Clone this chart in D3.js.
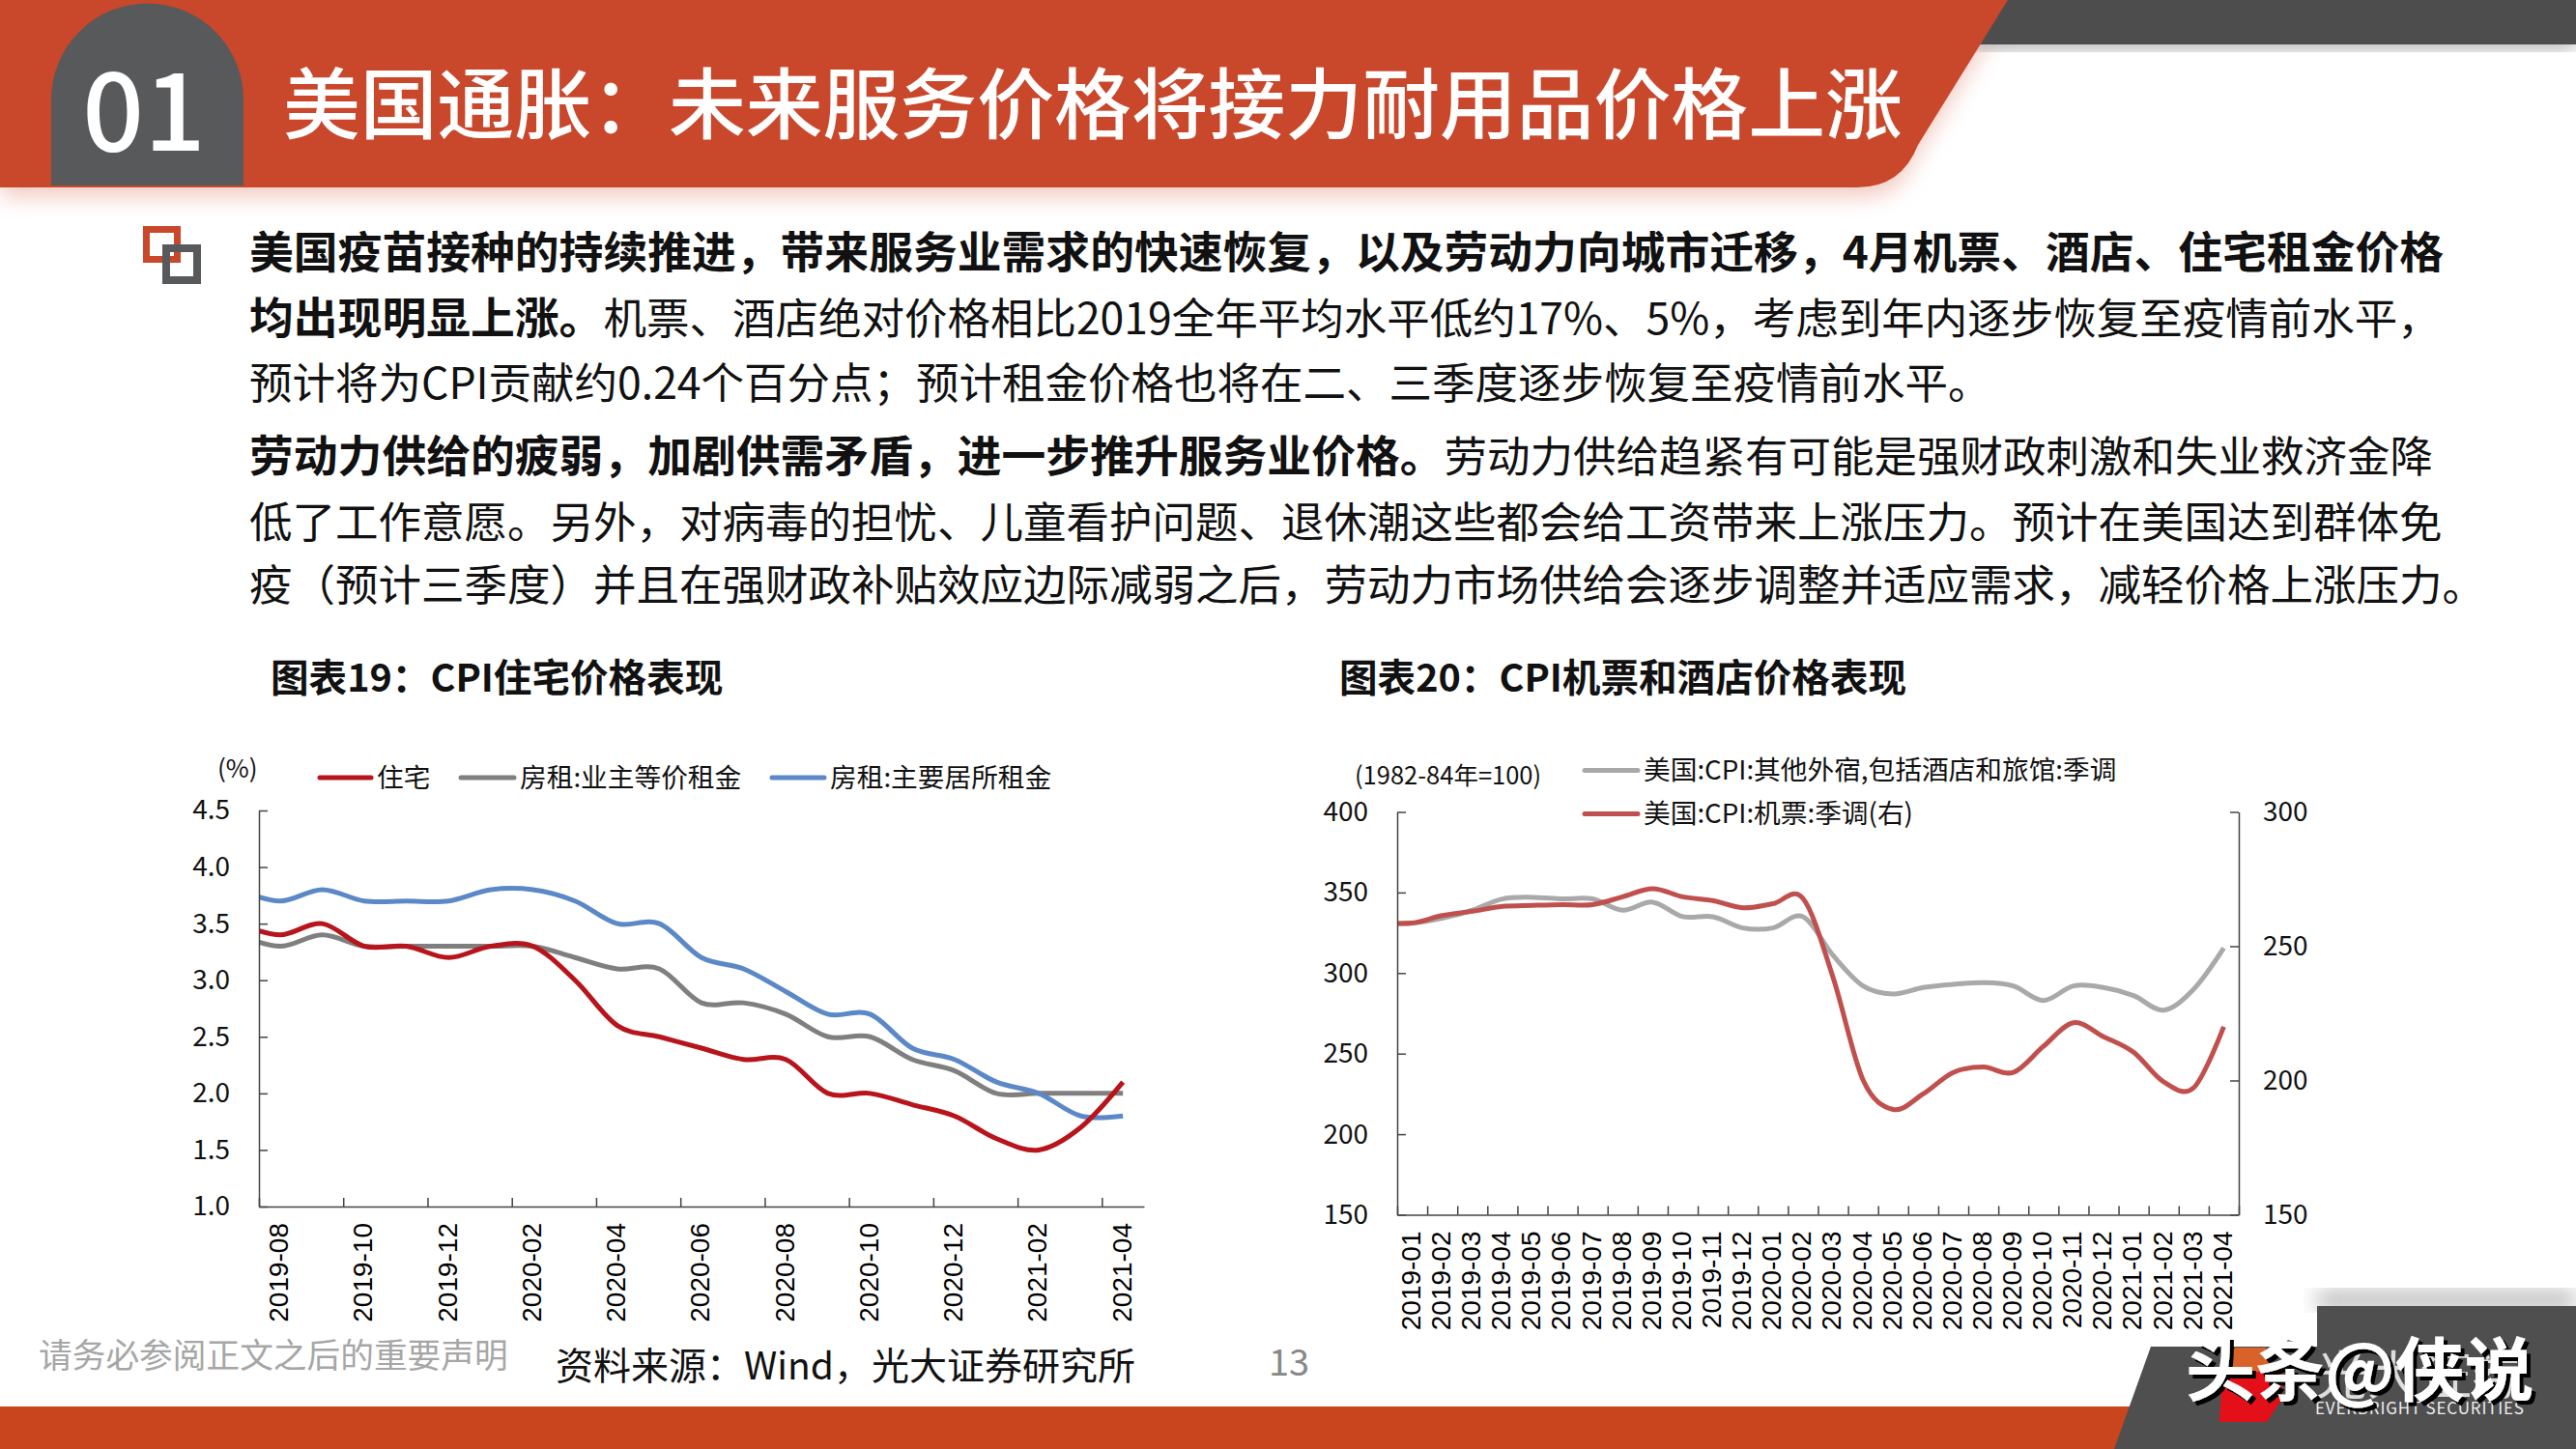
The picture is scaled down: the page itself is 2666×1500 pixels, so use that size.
<!DOCTYPE html>
<html>
<head>
<meta charset="utf-8">
<script src="https://cdn.jsdelivr.net/npm/d3@7"></script>
<style>
  html, body { margin: 0; padding: 0; background: #fff; }
  svg { display: block; }
  text { font-family: "Noto Sans CJK SC", "Noto Sans", sans-serif; }
</style>
</head>
<body>
<script>
const width = 2666;
const height = 1500;

const slideNumber = "01";
const slideTitle = "美国通胀：未来服务价格将接力耐用品价格上涨";
const bodyLines = [
  [["美国疫苗接种的持续推进，带来服务业需求的快速恢复，以及劳动力向城市迁移，4月机票、酒店、住宅租金价格", true]],
  [["均出现明显上涨。", true], ["机票、酒店绝对价格相比2019全年平均水平低约17%、5%，考虑到年内逐步恢复至疫情前水平，", false]],
  [["预计将为CPI贡献约0.24个百分点；预计租金价格也将在二、三季度逐步恢复至疫情前水平。", false]],
  [["劳动力供给的疲弱，加剧供需矛盾，进一步推升服务业价格。", true], ["劳动力供给趋紧有可能是强财政刺激和失业救济金降", false]],
  [["低了工作意愿。另外，对病毒的担忧、儿童看护问题、退休潮这些都会给工资带来上涨压力。预计在美国达到群体免", false]],
  [["疫（预计三季度）并且在强财政补贴效应边际减弱之后，劳动力市场供给会逐步调整并适应需求，减轻价格上涨压力。", false]]
];
const bodyBaselines = [277.5, 345.5, 412.5, 488.5, 556.5, 622];

// chart 19, first month only sits behind the clip at the axis
const months19 = ["2019-07", "2019-08", "2019-09", "2019-10", "2019-11", "2019-12", "2020-01", "2020-02", "2020-03", "2020-04", "2020-05", "2020-06", "2020-07", "2020-08", "2020-09", "2020-10", "2020-11", "2020-12", "2021-01", "2021-02", "2021-03", "2021-04"];
const housing = [3.5, 3.4, 3.5, 3.3, 3.3, 3.2, 3.3, 3.3, 3.0, 2.6, 2.5, 2.4, 2.3, 2.3, 2.0, 2.0, 1.9, 1.8, 1.6, 1.5, 1.7, 2.1];
const ownersRent = [3.4, 3.3, 3.4, 3.3, 3.3, 3.3, 3.3, 3.3, 3.2, 3.1, 3.1, 2.8, 2.8, 2.7, 2.5, 2.5, 2.3, 2.2, 2.0, 2.0, 2.0, 2.0];
const primaryRent = [3.8, 3.7, 3.8, 3.7, 3.7, 3.7, 3.8, 3.8, 3.7, 3.5, 3.5, 3.2, 3.1, 2.9, 2.7, 2.7, 2.4, 2.3, 2.1, 2.0, 1.8, 1.8];
const ticks19 = [1.0, 1.5, 2.0, 2.5, 3.0, 3.5, 4.0, 4.5];

// chart 20, same lead-in month behind the clip
const months20 = ["2018-12", "2019-01", "2019-02", "2019-03", "2019-04", "2019-05", "2019-06", "2019-07", "2019-08", "2019-09", "2019-10", "2019-11", "2019-12", "2020-01", "2020-02", "2020-03", "2020-04", "2020-05", "2020-06", "2020-07", "2020-08", "2020-09", "2020-10", "2020-11", "2020-12", "2021-01", "2021-02", "2021-03", "2021-04"];
const lodging = [331, 331, 334, 339, 346, 347, 346, 346, 339, 344, 335, 335, 328, 328, 335, 311, 292, 287, 291, 293, 294, 292, 283, 292, 291, 286, 277, 290, 315.6];
const airfare = [258.8, 258.6, 261.4, 263, 264.8, 265.2, 265.5, 265.5, 268.4, 271.4, 268.4, 267, 264.3, 265.8, 267.8, 238.4, 200.2, 189.2, 195, 203, 205, 203, 212.7, 221.5, 216.3, 210.5, 199.5, 197.3, 220];
const ticks20Left = [150, 200, 250, 300, 350, 400];
const ticks20Right = [150, 200, 250, 300];

const svg = d3.select("body").append("svg")
  .attr("width", width)
  .attr("height", height);

const defs = svg.append("defs");
const orange = "#c9472a";
const darkGray = "#58595b";

const blur = defs.append("filter").attr("id", "soft")
  .attr("x", "-5%").attr("y", "-30%").attr("width", "110%").attr("height", "160%");
blur.append("feGaussianBlur").attr("stdDeviation", 11);

const wmShadow = defs.append("filter").attr("id", "wmShadow")
  .attr("x", "-5%").attr("y", "-5%").attr("width", "110%").attr("height", "120%");
wmShadow.append("feDropShadow")
  .attr("dx", 4).attr("dy", 4).attr("stdDeviation", 0.5)
  .attr("flood-color", "#000").attr("flood-opacity", 1);

// header
svg.append("path")
  .attr("d", "M0,0H2078L1976,164Q1965,194 1922,194H0Z")
  .attr("transform", "translate(0,10)")
  .attr("fill", "#e8a090")
  .attr("opacity", 0.55)
  .attr("filter", "url(#soft)");
svg.append("rect")
  .attr("x", 2040).attr("y", 30).attr("width", 626).attr("height", 18)
  .attr("fill", "#999").attr("filter", "url(#soft)");
svg.append("rect")
  .attr("x", 2040).attr("y", 0).attr("width", 626).attr("height", 46)
  .attr("fill", "#4d4d4d");
svg.append("path")
  .attr("d", "M0,0H2078L1985,150Q1968,194 1922,194H0Z")
  .attr("fill", orange);
svg.append("path")
  .attr("d", "M53,192V103A99,99 0 0 1 252,103V192Z")
  .attr("fill", darkGray);
svg.append("text")
  .attr("x", 149).attr("y", 156)
  .attr("text-anchor", "middle")
  .attr("font-size", 112).attr("font-weight", 500)
  .attr("fill", "#fff")
  .text(slideNumber);
svg.append("text")
  .attr("x", 293).attr("y", 137)
  .attr("font-size", 79.8).attr("font-weight", 500)
  .attr("fill", "#fff")
  .text(slideTitle);

// bullet icon
svg.append("rect").attr("x", 151.5).attr("y", 237.5).attr("width", 32).attr("height", 31)
  .attr("fill", "none").attr("stroke", orange).attr("stroke-width", 7);
svg.append("rect").attr("x", 172).attr("y", 257).attr("width", 32).attr("height", 33)
  .attr("fill", "none").attr("stroke", darkGray).attr("stroke-width", 8);

// body text
const body = svg.append("g").attr("fill", "#111");
bodyLines.forEach((runs, i) => {
  const line = body.append("text").attr("x", 258).attr("y", bodyBaselines[i]);
  runs.forEach(([txt, bold]) => {
    line.append("tspan")
      .attr("font-size", bold ? 45.8 : 44.5)
      .attr("font-weight", bold ? 700 : 400)
      .text(txt);
  });
});

// chart titles
svg.append("text").attr("x", 280).attr("y", 716)
  .attr("font-size", 39.6).attr("font-weight", 700).attr("fill", "#111")
  .text("图表19：CPI住宅价格表现");
svg.append("text").attr("x", 1386).attr("y", 716)
  .attr("font-size", 39.6).attr("font-weight", 700).attr("fill", "#111")
  .text("图表20：CPI机票和酒店价格表现");

const curve = d3.curveCatmullRom.alpha(0);

function drawXAxis(g, x, months, labelEvery, y0) {
  const shown = d3.range(1, months.length);
  // labels sit on the band centres, ticks on the band edges
  g.append("g")
    .attr("transform", `translate(0,${y0})`)
    .call(d3.axisBottom(x)
      .tickValues(shown.filter(i => (i - 1) % labelEvery === 0))
      .tickFormat(i => months[i])
      .tickSize(0))
    .call(a => a.select(".domain").remove())
    .selectAll("text")
    .attr("y", 0).attr("x", -17).attr("dy", "0.28em")
    .attr("transform", "rotate(-90)")
    .attr("text-anchor", "end")
    .style("font-family", "'Liberation Sans', Arial, sans-serif")
    .attr("font-size", 28)
    .attr("fill", "#000");

  const edges = d3.range(0.5, months.length + 0.5, labelEvery);
  g.append("g")
    .attr("transform", `translate(0,${y0})`)
    .call(d3.axisBottom(x).tickValues(edges).tickFormat("").tickSize(-9).tickSizeOuter(0))
    .call(a => a.selectAll("line,path").attr("stroke", "#444").attr("stroke-width", 1.5));
}

function styleYAxis(a) {
  a.selectAll("line,path").attr("stroke", "#444").attr("stroke-width", 1.5);
  a.selectAll("text").attr("font-size", 28).attr("fill", "#111");
}

function drawLines(g, id, x, rows) {
  defs.append("clipPath").attr("id", id).append("rect")
    .attr("x", x.range()[0]).attr("y", 800)
    .attr("width", x.range()[1] - x.range()[0]).attr("height", 500);
  const plot = g.append("g").attr("clip-path", `url(#${id})`);
  rows.forEach(r => {
    const line = d3.line().x((d, i) => x(i)).y(d => r.y(d)).curve(curve);
    plot.append("path")
      .datum(r.values)
      .attr("fill", "none")
      .attr("stroke", r.color)
      .attr("stroke-width", 5)
      .attr("stroke-linejoin", "round")
      .attr("d", line);
  });
}

function legendItem(g, x1, x2, y, color, label) {
  g.append("line").attr("x1", x1).attr("x2", x2).attr("y1", y).attr("y2", y)
    .attr("stroke", color).attr("stroke-width", 5).attr("stroke-linecap", "round");
  g.append("text").attr("x", x2 + 6).attr("y", y).attr("dy", "0.35em")
    .attr("font-size", 27.7).attr("fill", "#111").text(label);
}

// chart 19
const c19 = svg.append("g");
const x19 = d3.scaleLinear().domain([0.5, months19.length - 0.5]).range([268, 1184]);
const y19 = d3.scaleLinear().domain([1, 4.5]).range([1249, 839]);
drawLines(c19, "clip19", x19, [
  { values: ownersRent, color: "#7f7f7f", y: y19 },
  { values: primaryRent, color: "#5b88c6", y: y19 },
  { values: housing, color: "#b8141c", y: y19 }
]);
c19.append("g")
  .attr("transform", "translate(268,0)")
  .call(d3.axisLeft(y19).tickValues(ticks19).tickFormat(d3.format(".1f"))
    .tickSize(-9).tickSizeOuter(0).tickPadding(30))
  .call(styleYAxis);
drawXAxis(c19, x19, months19, 2, 1249);
c19.append("text").attr("x", 225).attr("y", 796).attr("dy", "0.35em")
  .attr("font-size", 26).attr("fill", "#111").text("(%)");
legendItem(c19, 331, 384, 805, "#b8141c", "住宅");
legendItem(c19, 477, 532, 805, "#7f7f7f", "房租:业主等价租金");
legendItem(c19, 799, 853, 805, "#5b88c6", "房租:主要居所租金");

// chart 20
const c20 = svg.append("g");
const x20 = d3.scaleLinear().domain([0.5, months20.length - 0.5]).range([1446, 2317]);
const y20 = d3.scaleLinear().domain([150, 400]).range([1257.5, 840.5]);
const y20r = d3.scaleLinear().domain([150, 300]).range([1257.5, 840.5]);
drawLines(c20, "clip20", x20, [
  { values: lodging, color: "#a9a9a9", y: y20 },
  { values: airfare, color: "#c0504d", y: y20r }
]);
c20.append("g")
  .attr("transform", "translate(1446,0)")
  .call(d3.axisLeft(y20).tickValues(ticks20Left).tickSize(-9).tickSizeOuter(0).tickPadding(30))
  .call(styleYAxis);
c20.append("g")
  .attr("transform", "translate(2317,0)")
  .call(d3.axisRight(y20r).tickValues(ticks20Right).tickSize(-9).tickSizeOuter(0).tickPadding(25))
  .call(styleYAxis);
drawXAxis(c20, x20, months20, 1, 1257.5);
c20.append("text").attr("x", 1402).attr("y", 803).attr("dy", "0.35em")
  .attr("font-size", 25.5).attr("fill", "#111").text("(1982-84年=100)");
legendItem(c20, 1640, 1695, 797.5, "#a9a9a9", "美国:CPI:其他外宿,包括酒店和旅馆:季调");
legendItem(c20, 1640, 1695, 842.5, "#c0504d", "美国:CPI:机票:季调(右)");

// footer
svg.append("text").attr("x", 40).attr("y", 1404).attr("dy", "0.35em")
  .attr("font-size", 34.7).attr("fill", "#a6a6a6").text("请务必参阅正文之后的重要声明");
svg.append("text").attr("x", 575).attr("y", 1414).attr("dy", "0.35em")
  .attr("font-size", 39).attr("fill", "#111").text("资料来源：Wind，光大证券研究所");
svg.append("text").attr("x", 1313).attr("y", 1411).attr("dy", "0.35em")
  .attr("font-size", 38).attr("fill", "#888").text("13");

svg.append("rect").attr("x", 0).attr("y", 1456).attr("width", 2300).attr("height", 44)
  .attr("fill", "#c8451d");
svg.append("rect").attr("x", 2398).attr("y", 1338).attr("width", 268).attr("height", 16)
  .attr("fill", "#aaa").attr("filter", "url(#soft)");
svg.append("path")
  .attr("d", "M2398,1352H2666V1500H2188L2226,1394H2398Z")
  .attr("fill", "#4f4f4f");

// logo mark
svg.append("path").attr("d", "M2313,1395H2345L2352,1420H2300Z").attr("fill", "#d9622b");
svg.append("path").attr("d", "M2300,1420H2362V1448L2346,1472H2297Z").attr("fill", "#e3101a");
svg.append("text").attr("x", 2396).attr("y", 1444)
  .attr("font-size", 54).attr("fill", "#ddd").text("光大证券");
svg.append("text").attr("x", 2396).attr("y", 1464)
  .attr("font-size", 17).attr("textLength", 216).attr("lengthAdjust", "spacing")
  .attr("fill", "#eee")
  .text("EVERBRIGHT SECURITIES");

// watermark
svg.append("text").attr("x", 2262).attr("y", 1444)
  .attr("font-size", 72).attr("font-weight", 700).attr("fill", "#fff")
  .attr("filter", "url(#wmShadow)")
  .text("头条@侠说");
</script>
</body>
</html>
